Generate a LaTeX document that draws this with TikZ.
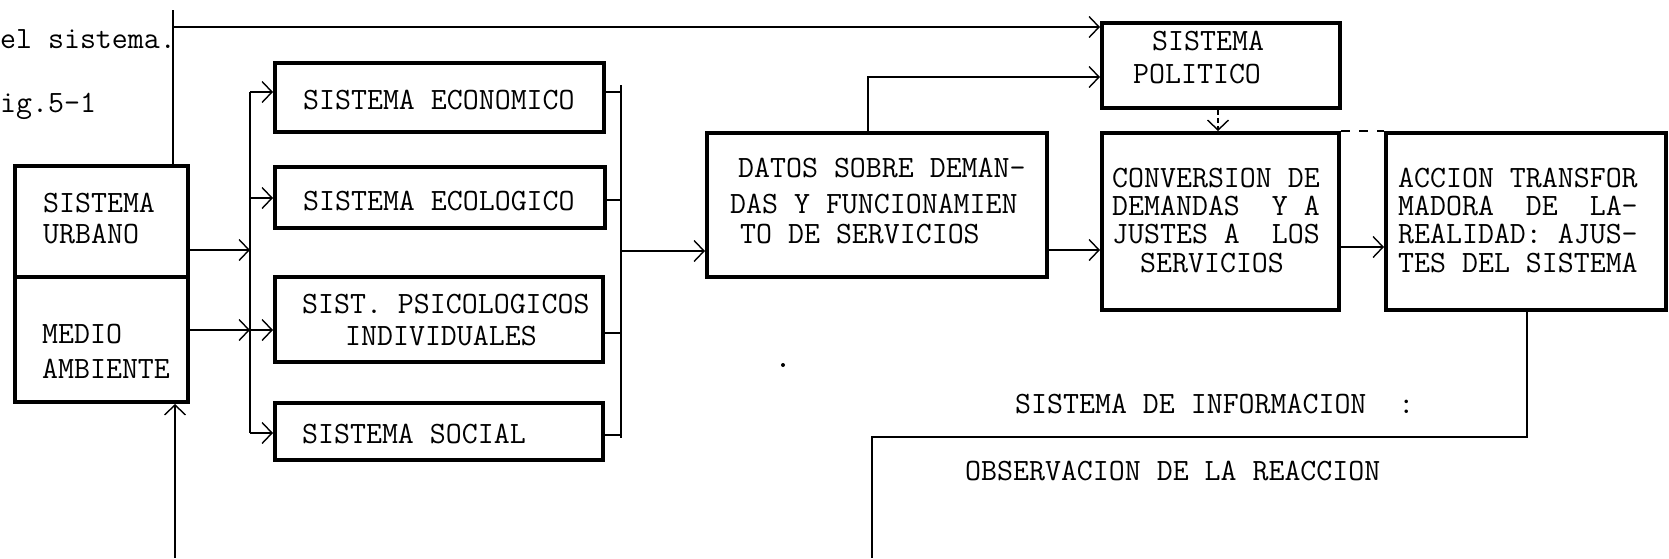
\documentclass[tikz,border=0pt]{standalone}
\usepackage{fontspec}
\usetikzlibrary{arrows.meta}
\tikzset{
  box/.style={draw, line width=4pt, inner sep=0pt},
  conn/.style={line width=1.4pt},
  arr/.style={conn, -{Straight Barb[length=10pt,width=21pt]}},
  txt/.style={inner sep=0pt, anchor=base west, font=\fontsize{31}{31}\selectfont\ttfamily},
}
\begin{document}
\begin{tikzpicture}[x=1pt,y=-1pt]
\useasboundingbox (0,0) rectangle (1669,558);
% boxes
\node[box, minimum width=173pt, minimum height=111pt] (urb) at (101.5,221.5) {};
\node[box, minimum width=173pt, minimum height=125pt] (med) at (101.5,339.5) {};
\node[box, minimum width=329pt, minimum height=69pt] (econ) at (439.5,97.5) {};
\node[box, minimum width=330pt, minimum height=61pt] (ecol) at (440,197.5) {};
\node[box, minimum width=328pt, minimum height=85pt] (psic) at (439,319.5) {};
\node[box, minimum width=328pt, minimum height=57pt] (soc) at (439,431.5) {};
\node[box, minimum width=340pt, minimum height=144pt] (datos) at (877,205) {};
\node[box, minimum width=238pt, minimum height=85pt] (pol) at (1221,65.5) {};
\node[box, minimum width=237pt, minimum height=177pt] (conv) at (1220.5,221.5) {};
\node[box, minimum width=280pt, minimum height=177pt] (acc) at (1526,221.5) {};
% texts
\node[txt] (t1) at (0,48) {el sistema.};
\node[txt] (t2) at (0,112) {ig.5-1};
\node[txt] (u1) at (43,212) {SISTEMA};
\node[txt] (u2) at (43,243) {URBANO};
\node[txt] (m1) at (42,343) {MEDIO};
\node[txt] (m2) at (42,378) {AMBIENTE};
\node[txt] (e1) at (303,109) {SISTEMA ECONOMICO};
\node[txt] (e2) at (303,210) {SISTEMA ECOLOGICO};
\node[txt] (p1) at (302,313) {SIST. PSICOLOGICOS};
\node[txt] (p2) at (345,345) {INDIVIDUALES};
\node[txt] (s1) at (302,443) {SISTEMA SOCIAL};
\node[txt] (d1) at (738,177) {DATOS SOBRE DEMAN-};
\node[txt] (d2) at (730,213) {DAS Y FUNCIONAMIEN};
\node[txt] (d3) at (740,243) {TO DE SERVICIOS};
\node[txt] (o1) at (1152,50) {SISTEMA};
\node[txt] (o2) at (1133,83) {POLITICO};
\node[txt] (c1) at (1112,187) {CONVERSION DE};
\node[txt] (c2) at (1112,215) {DEMANDAS\ \ Y A};
\node[txt] (c3) at (1112,243) {JUSTES A\ \ LOS};
\node[txt] (c4) at (1140,272) {SERVICIOS};
\node[txt] (a1) at (1398,187) {ACCION TRANSFOR};
\node[txt] (a2) at (1398,215) {MADORA\ \ DE\ \ LA-};
\node[txt] (a3) at (1398,243) {REALIDAD: AJUS-};
\node[txt] (a4) at (1398,272) {TES DEL SISTEMA};
\node[txt] (i1) at (1015,413) {SISTEMA DE INFORMACION\ \ :};
\node[txt] (i2) at (965,480) {OBSERVACION DE LA REACCION};
% left bus
\coordinate (lbT) at (250,92);
\coordinate (lbB) at (250,433);
\draw[conn] (lbT) -- (lbB);
\draw[arr] (urb.east |- 0,250) -- (lbT |- 0,250);
\draw[arr] (med.east |- 0,330) -- (lbT |- 0,330);
\draw[arr] (lbT) -- (econ.west |- lbT);
\draw[arr] (lbT |- 0,198) -- (ecol.west |- 0,198);
\draw[arr] (lbT |- 0,330) -- (psic.west |- 0,330);
\draw[arr] (lbB) -- (soc.west |- lbB);
% right bus
\coordinate (rbT) at (621,85);
\coordinate (rbB) at (621,438);
\draw[conn] (rbT) -- (rbB);
\draw[conn] (econ.east |- 0,92) -- (rbT |- 0,92);
\draw[conn] (ecol.east |- 0,200) -- (rbT |- 0,200);
\draw[conn] (psic.east |- 0,333) -- (rbT |- 0,333);
\draw[conn] (soc.east |- 0,435) -- (rbT |- 0,435);
\draw[arr] (rbT |- 0,251) -- (datos.west |- 0,251);
% top line
\coordinate (topT) at (173,10);
\coordinate (topC) at (173,27);
\draw[conn] (topT) -- (urb.north -| topT);
\draw[arr] (topC) -- (pol.west |- topC);
\coordinate (dUp) at (868,77);
\draw[arr] (datos.north -| dUp) -- (dUp) -- (pol.west |- dUp);
\draw[arr] (datos.east |- 0,250) -- (conv.west |- 0,250);
\draw[arr] (conv.east |- 0,247) -- (acc.west |- 0,247);
\coordinate (pc) at (1218,0);
\draw[arr, dash pattern=on 5pt off 3pt] (pol.south -| pc) -- (conv.north -| pc);
\draw[conn, dash pattern=on 9pt off 9pt] (conv.north east) -- (acc.north west);
% feedback
\coordinate (fbR) at (1527,437);
\coordinate (fbL) at (872,437);
\coordinate (fbB) at (872,558);
\draw[conn] (acc.south -| fbR) -- (fbR) -- (fbL) -- (fbB);
\coordinate (botL) at (175,558);
\draw[arr] (botL) -- (med.south -| botL);
\fill (783,365) circle (2pt);
\end{tikzpicture}
\end{document}
